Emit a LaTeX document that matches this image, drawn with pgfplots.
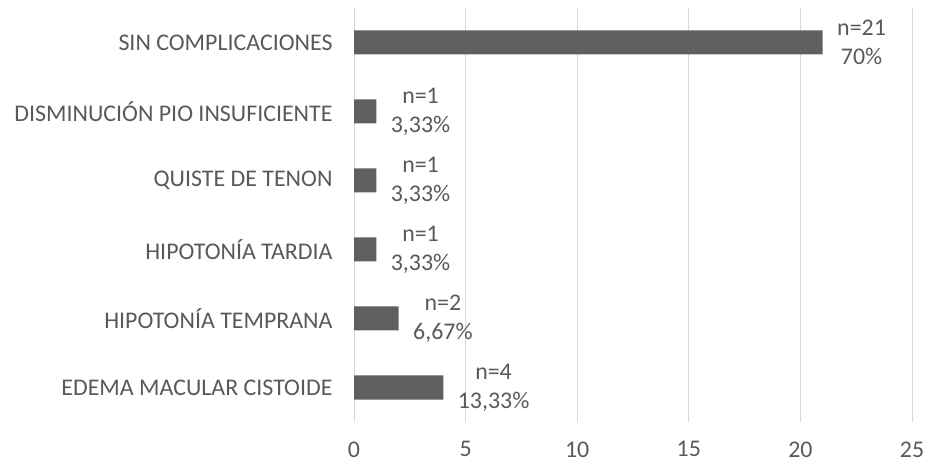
\documentclass[border=0pt]{standalone}
\usepackage{fontspec}
\setmainfont{Carlito}
\usepackage{pgfplots}
\pgfplotsset{compat=1.18}
\definecolor{barc}{HTML}{5F5F5F}
\definecolor{gridc}{HTML}{D9D9D9}
\definecolor{txtc}{HTML}{595959}
\begin{document}
\begin{tikzpicture}
\useasboundingbox (0,0) rectangle (930bp,467bp);
\begin{axis}[
  at={(354bp,45bp)}, anchor=south west,
  scale only axis, width=558bp, height=414bp,
  xbar, bar width=24bp,
  xmin=0, xmax=25, ymin=-0.5, ymax=5.5,
  xtick={0,5,10,15,20,25},
  ytick={0,1,2,3,4,5},
  yticklabels={EDEMA MACULAR CISTOIDE,HIPOTONÍA TEMPRANA,HIPOTONÍA TARDIA,QUISTE DE TENON,DISMINUCIÓN PIO INSUFICIENTE,SIN COMPLICACIONES},
  axis line style={draw=none},
  major tick length=0pt,
  xmajorgrids, major grid style={gridc, line width=1bp},
  ticklabel style={font=\fontsize{24}{28}\selectfont, text=txtc},
  /pgf/number format/assume math mode=true,
  xticklabel style={yshift=-16bp},
  yticklabel style={xshift=-18bp},
  clip=false,
  point meta=explicit symbolic,
  nodes near coords,
  every node near coord/.append style={font=\fontsize{24}{29}\selectfont, text=txtc, align=center, anchor=west, xshift=11bp},
]
\addplot[fill=barc, draw=none] coordinates {
  (4,0) [n=4\\13,33\%]
  (2,1) [n=2\\6,67\%]
  (1,2) [n=1\\3,33\%]
  (1,3) [n=1\\3,33\%]
  (1,4) [n=1\\3,33\%]
  (21,5) [n=21\\70\%]
};
\end{axis}
\end{tikzpicture}
\end{document}
